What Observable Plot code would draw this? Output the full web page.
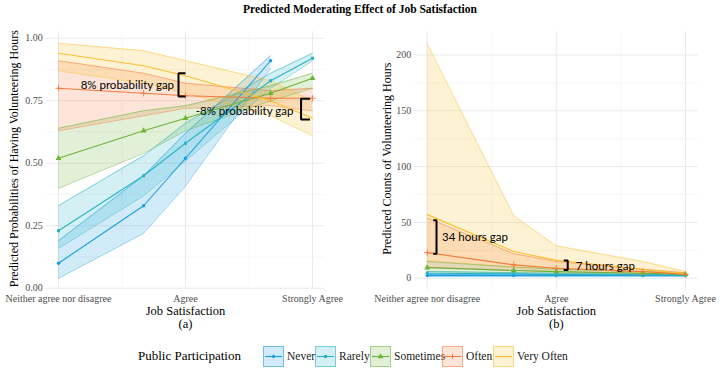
<!DOCTYPE html>
<html><head><meta charset="utf-8">
<script src="https://cdn.jsdelivr.net/npm/d3@7"></script>
<script src="https://cdn.jsdelivr.net/npm/@observablehq/plot@0.6"></script>
<style>
body{margin:0;background:#fff;width:720px;height:374px;overflow:hidden;font-family:"Liberation Serif",serif;}
#title{height:20px;line-height:18px;text-align:center;font-weight:bold;font-size:11.5px;color:#000;}
#panels{display:flex;height:320px;}
#legend{height:34px;position:relative;font-size:11.5px;color:#1a1a1a;}
.lg{position:absolute;top:6px;display:flex;align-items:center;height:20px;}
</style></head><body>
<div id="title">Predicted Moderating Effect of Job Satisfaction</div>
<div id="panels"></div>
<div id="legend"></div>
<script>
// ---------- shared ----------
const xValues = [3, 3.67, 4, 4.67, 5];
const xTickValues = [3, 4, 5];
const xTickLabels = ["Neither agree nor disagree", "Agree", "Strongly Agree"];
const seriesNames = ["Never", "Rarely", "Sometimes", "Often", "Very Often"];
const seriesColors = ["#1a9de0", "#2ab3c6", "#6cb33a", "#f5793a", "#fbbf2e"];
const seriesSymbols = ["circle", "square", "triangle", "plus", null];

// ---------- panel (a): probabilities ----------
const probNeverMean = [0.10, 0.33, 0.52, 0.91, null];
const probNeverLo   = [0.04, 0.22, 0.41, 0.88, null];
const probNeverHi   = [0.19, 0.45, 0.62, 0.93, null];
const probRarelyMean = [0.23, 0.45, 0.58, 0.83, 0.92];
const probRarelyLo   = [0.16, 0.37, 0.51, 0.80, 0.91];
const probRarelyHi   = [0.33, 0.53, 0.66, 0.86, 0.94];
const probSometimesMean = [0.52, 0.63, 0.68, 0.78, 0.84];
const probSometimesLo   = [0.40, 0.54, 0.63, 0.75, 0.80];
const probSometimesHi   = [0.64, 0.71, 0.73, 0.81, 0.86];
const probOftenMean = [0.80, 0.78, 0.77, 0.76, 0.76];
const probOftenLo   = [0.63, 0.69, 0.72, 0.73, 0.71];
const probOftenHi   = [0.91, 0.86, 0.82, 0.79, 0.80];
const probVeryOftenMean = [0.94, 0.89, 0.85, 0.75, 0.68];
const probVeryOftenLo   = [0.87, 0.82, 0.78, 0.69, 0.61];
const probVeryOftenHi   = [0.98, 0.95, 0.91, 0.83, 0.75];
const probTicks = [0, 0.25, 0.5, 0.75, 1];
const probMinor = [0.125, 0.375, 0.625, 0.875];

// ---------- panel (b): counts ----------
const countNeverMean = [2.5, 2.5, 2.5, 2.5, 2.5];
const countNeverLo   = [1.5, 1.5, 1.5, 1.5, 1.5];
const countNeverHi   = [3.5, 3.5, 3.2, 3.0, 3.0];
const countRarelyMean = [4.5, 4.0, 3.5, 3.0, 2.8];
const countRarelyLo   = [3.5, 3.2, 2.8, 2.5, 2.2];
const countRarelyHi   = [6.0, 5.0, 4.5, 3.8, 3.4];
const countSometimesMean = [9.5, 7.0, 6.0, 4.5, 3.5];
const countSometimesLo   = [6.0, 5.0, 4.5, 3.5, 2.8];
const countSometimesHi   = [15, 10, 8, 6, 4.5];
const countOftenMean = [23, 12, 9, 6, 3.5];
const countOftenLo   = [10, 7, 6, 4, 3];
const countOftenHi   = [54, 22, 15, 8, 5];
const countVeryOftenMean = [57, 24, 16, 8, 4];
const countVeryOftenLo   = [16, 10, 9, 5, 3];
const countVeryOftenHi   = [210, 56, 29, 15, 6];
const countTicks = [0, 50, 100, 150, 200];
const countMinor = [25, 75, 125, 175];

// ---------- annotations ----------
const probGapLabels = ["8% probability gap", "-8% probability gap"];
const probGapLabelX = [3.91, 4.85];
const probGapLabelY = [0.81, 0.707];
const probBracket1X = [4.0, 3.945, 3.945, 4.0];
const probBracket1Y = [0.86, 0.86, 0.767, 0.767];
const probBracket2X = [4.98, 4.91, 4.91, 4.98];
const probBracket2Y = [0.758, 0.758, 0.675, 0.675];
const countGapLabels = ["34 hours gap", "7 hours gap"];
const countGapLabelX = [3.115, 4.15];
const countGapLabelY = [36.6, 11];
const countBracket1X = [3.047, 3.072, 3.072, 3.047];
const countBracket1Y = [52, 52, 22, 22];
const countBracket2X = [4.057, 4.088, 4.088, 4.057];
const countBracket2Y = [16, 16, 7.4, 7.4];

function rows(name, mean, lo, hi) {
  return xValues.map((x, i) => ({series: name, x, mean: mean[i], lo: lo[i], hi: hi[i]}))
    .filter(d => d.mean != null);
}
const probData = [
  ...rows("Never", probNeverMean, probNeverLo, probNeverHi),
  ...rows("Rarely", probRarelyMean, probRarelyLo, probRarelyHi),
  ...rows("Sometimes", probSometimesMean, probSometimesLo, probSometimesHi),
  ...rows("Often", probOftenMean, probOftenLo, probOftenHi),
  ...rows("Very Often", probVeryOftenMean, probVeryOftenLo, probVeryOftenHi)
];
const countData = [
  ...rows("Never", countNeverMean, countNeverLo, countNeverHi),
  ...rows("Rarely", countRarelyMean, countRarelyLo, countRarelyHi),
  ...rows("Sometimes", countSometimesMean, countSometimesLo, countSometimesHi),
  ...rows("Often", countOftenMean, countOftenLo, countOftenHi),
  ...rows("Very Often", countVeryOftenMean, countVeryOftenLo, countVeryOftenHi)
];
const pts = (xs, ys) => xs.map((x, i) => ({x, y: ys[i]}));

function panel(o) {
  const data = o.data;
  const dotMarks = [];
  seriesNames.forEach((s, i) => {
    const sym = seriesSymbols[i];
    if (!sym) return;
    const sub = data.filter(d => d.series === s);
    if (sym === "plus") dotMarks.push(Plot.dot(sub, {x: "x", y: "mean", symbol: "plus", stroke: seriesColors[i], r: 2.2, strokeWidth: 0.9}));
    else dotMarks.push(Plot.dot(sub, {x: "x", y: "mean", symbol: sym, fill: seriesColors[i], r: sym === "triangle" ? 2.2 : 1.7, stroke: "none"}));
  });
  return Plot.plot({
    width: 360, height: 320,
    marginLeft: o.ml, marginRight: o.mr, marginTop: 11, marginBottom: 50.5,
    style: {fontFamily: "Liberation Serif", fontSize: "10px", color: "#4d4d4d", background: "white", overflow: "visible"},
    x: {type: "linear", domain: [2.9, 5.1]},
    y: {domain: o.ydomain},
    color: {domain: seriesNames, range: seriesColors},
    marks: [
      Plot.gridY(o.minor, {stroke: "#f2f2f2", strokeOpacity: 1, strokeWidth: 0.6}),
      Plot.gridX([3.5, 4.5], {stroke: "#f2f2f2", strokeOpacity: 1, strokeWidth: 0.6}),
      Plot.gridY(o.ticks, {stroke: "#ebebeb", strokeOpacity: 1, strokeWidth: 1}),
      Plot.gridX(xTickValues, {stroke: "#ebebeb", strokeOpacity: 1, strokeWidth: 1}),
      Plot.axisX({ticks: xTickValues, tickFormat: d => xTickLabels[xTickValues.indexOf(d)], tickSize: 0, tickPadding: 4.5, label: null, fontSize: 10}),
      Plot.axisY({ticks: o.ticks, tickFormat: o.fmt, tickSize: 0, tickPadding: 3, label: null, fontSize: 10}),
      Plot.areaY(data, {x: "x", y1: "lo", y2: "hi", fill: "series", z: "series", fillOpacity: 0.2}),
      Plot.line(data, {x: "x", y: "lo", stroke: "series", z: "series", strokeWidth: 0.7, strokeOpacity: 0.75}),
      Plot.line(data, {x: "x", y: "hi", stroke: "series", z: "series", strokeWidth: 0.7, strokeOpacity: 0.75}),
      Plot.line(data, {x: "x", y: "mean", stroke: "series", z: "series", strokeWidth: 1.1}),
      ...dotMarks,
      Plot.line(o.b1, {x: "x", y: "y", stroke: "black", strokeWidth: 2, strokeLinejoin: "miter", strokeLinecap: "butt"}),
      Plot.line(o.b2, {x: "x", y: "y", stroke: "black", strokeWidth: 2, strokeLinejoin: "miter", strokeLinecap: "butt"}),
      Plot.text(o.labels, {x: (d, i) => o.lx[i], y: (d, i) => o.ly[i], text: d => d, textAnchor: o.anchor, fontFamily: "Lato", fontSize: 11.5, fill: "black"}),
      Plot.text([o.ylabel], {frameAnchor: "left", dx: o.ydx, dy: -2, rotate: -90, fontSize: 12, fill: "black", textAnchor: "middle"}),
      Plot.text(["Job Satisfaction"], {frameAnchor: "bottom", dy: 25, fontSize: 12.5, fill: "black"}),
      Plot.text([o.tag], {frameAnchor: "bottom", dy: 38, fontSize: 12.5, fill: "black"})
    ]
  });
}

const panels = document.getElementById("panels");
panels.append(panel({
  data: probData, ml: 45.3, mr: 35.3, ydomain: [-0.007, 1.027], ticks: probTicks, minor: probMinor,
  fmt: d3.format(".2f"), ylabel: "Predicted Probabilities of Having Volunteering Hours", ydx: -32, tag: "(a)",
  b1: pts(probBracket1X, probBracket1Y), b2: pts(probBracket2X, probBracket2Y),
  labels: probGapLabels, lx: probGapLabelX, ly: probGapLabelY, anchor: "end"
}));
panels.append(panel({
  data: countData, ml: 53.8, mr: 22.1, ydomain: [-10.5, 221], ticks: countTicks, minor: countMinor,
  fmt: d3.format("d"), ylabel: "Predicted Counts of Volunteering Hours", ydx: -27, tag: "(b)",
  b1: pts(countBracket1X, countBracket1Y), b2: pts(countBracket2X, countBracket2Y),
  labels: countGapLabels, lx: countGapLabelX, ly: countGapLabelY, anchor: "start"
}));

// ---------- legend ----------
const legend = document.getElementById("legend");
const legendTitle = document.createElement("div");
legendTitle.className = "lg";
legendTitle.style.left = "138px";
legendTitle.style.fontSize = "13px";
legendTitle.style.color = "#000";
legendTitle.textContent = "Public Participation";
legend.append(legendTitle);
const legendX = [263, 315, 370, 442, 493];
const ns = "http://www.w3.org/2000/svg";
seriesNames.forEach((s, i) => {
  const item = document.createElement("div");
  item.className = "lg";
  item.style.left = legendX[i] + "px";
  const svg = document.createElementNS(ns, "svg");
  svg.setAttribute("width", 21); svg.setAttribute("height", 21);
  const c = seriesColors[i];
  const r = document.createElementNS(ns, "rect");
  r.setAttribute("x", 0.5); r.setAttribute("y", 0.5); r.setAttribute("width", 20); r.setAttribute("height", 20);
  r.setAttribute("fill", c); r.setAttribute("fill-opacity", 0.2); r.setAttribute("stroke", c); r.setAttribute("stroke-opacity", 0.6);
  svg.append(r);
  const l = document.createElementNS(ns, "line");
  l.setAttribute("x1", 2); l.setAttribute("x2", 19); l.setAttribute("y1", 10.5); l.setAttribute("y2", 10.5);
  l.setAttribute("stroke", c); l.setAttribute("stroke-width", 1.1);
  svg.append(l);
  const sym = seriesSymbols[i];
  if (sym) {
    const p = document.createElementNS(ns, "path");
    const st = {circle: d3.symbolCircle, square: d3.symbolSquare, triangle: d3.symbolTriangle, plus: d3.symbolPlus}[sym];
    p.setAttribute("d", d3.symbol(st, sym === "triangle" ? 14 : 9)());
    p.setAttribute("transform", "translate(10.5,10.5)");
    if (sym === "plus") { p.setAttribute("fill", "none"); p.setAttribute("stroke", c); }
    else p.setAttribute("fill", c);
    svg.append(p);
  }
  item.append(svg);
  const t = document.createElement("span");
  t.textContent = s;
  t.style.marginLeft = "3px";
  item.append(t);
  legend.append(item);
});
</script>
</body></html>
